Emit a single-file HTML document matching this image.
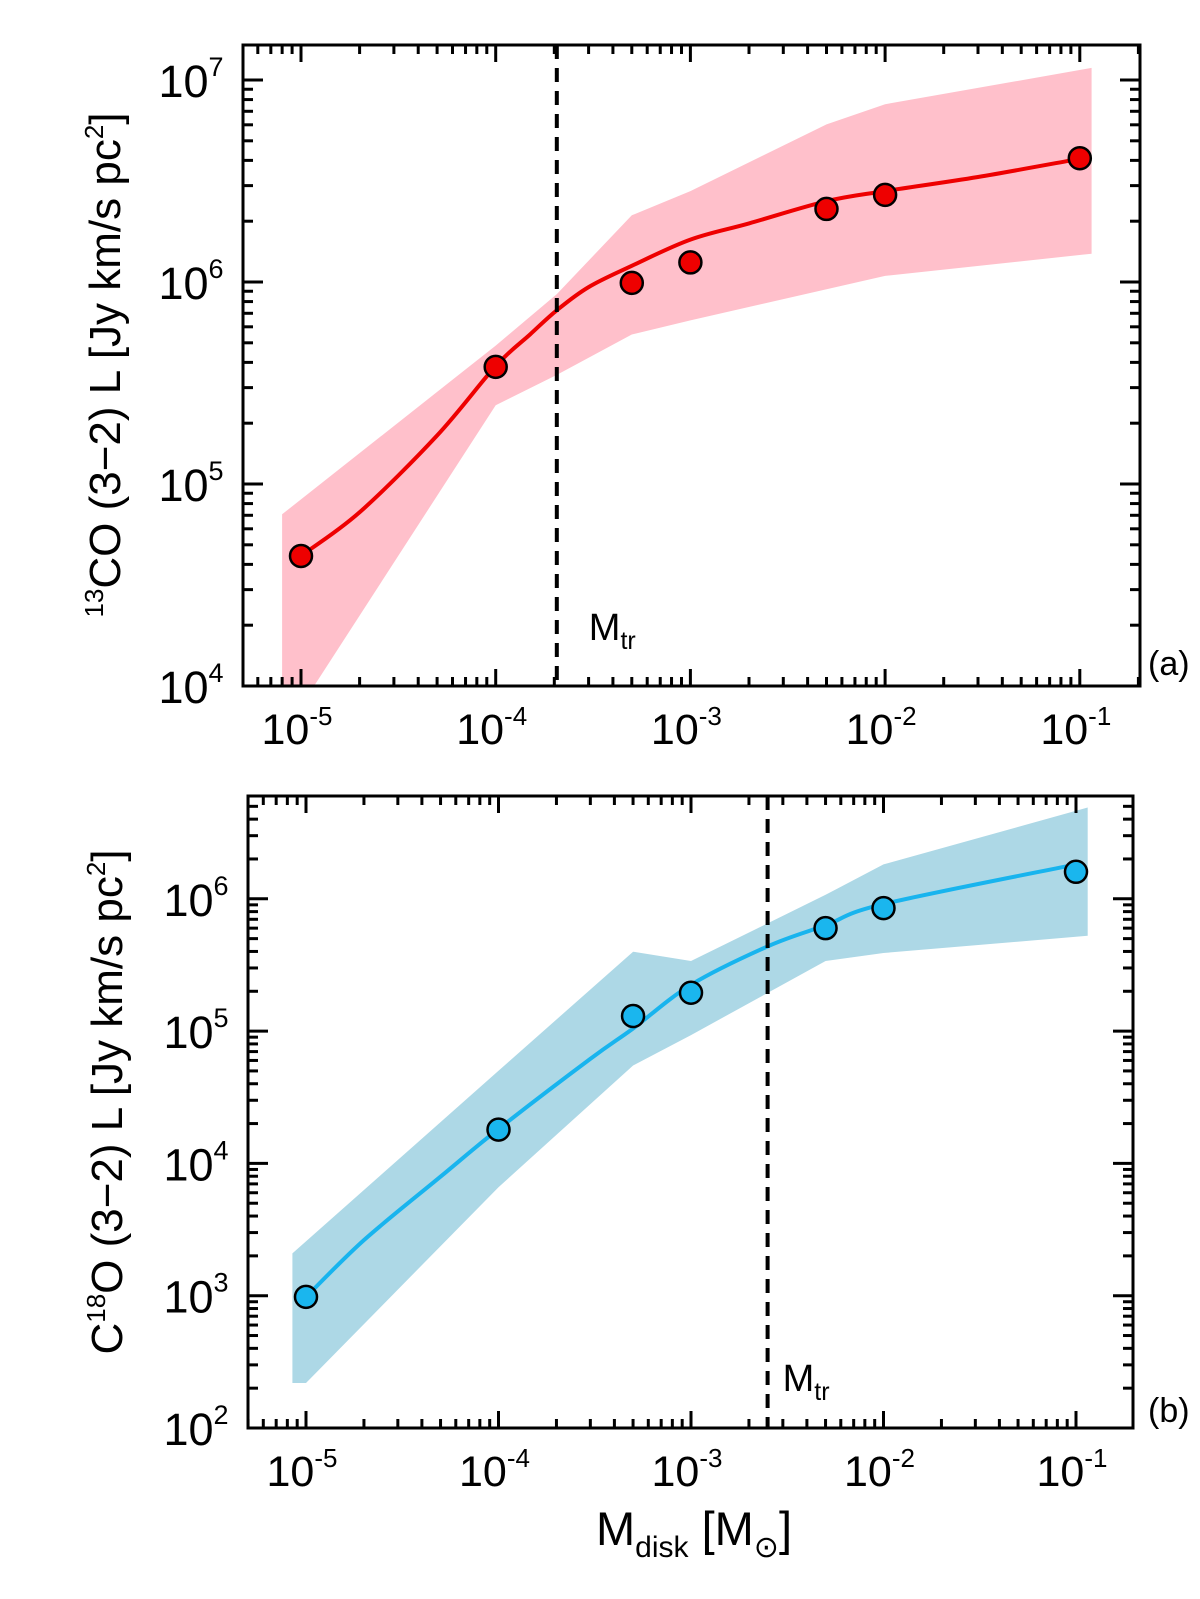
<!DOCTYPE html>
<html><head><meta charset="utf-8"><style>
html,body{margin:0;padding:0;background:#fff;}
svg{display:block;font-family:"Liberation Sans",Arial,sans-serif;}
</style></head><body>
<svg id="chart" width="1200" height="1599" viewBox="0 0 1200 1599"></svg>
<script>
// ---- Panel (a) data: 13CO ----
const aPtX = [1e-5, 1e-4, 5e-4, 1e-3, 5e-3, 1e-2, 1e-1];
const aPtY = [4.4e4, 3.8e5, 9.9e5, 1.25e6, 2.3e6, 2.7e6, 4.1e6];
const aCurveX = [1e-5, 2e-5, 5e-5, 1e-4, 1.5e-4, 2.06e-4, 3e-4, 5e-4, 1e-3, 2e-3, 5e-3, 1e-2, 3e-2, 1e-1];
const aCurveLogY = [4.645, 4.86, 5.24, 5.584, 5.74, 5.86, 5.975, 6.08, 6.21, 6.29, 6.40, 6.45, 6.52, 6.61];
const aBandX = [8e-6, 1e-4, 2.06e-4, 5e-4, 1e-3, 5e-3, 1e-2, 1.15e-1];
const aBandUpLog = [4.85, 5.685, 5.94, 6.33, 6.45, 6.78, 6.88, 7.06];
const aBandLoX = [8e-6, 1e-5, 1e-4, 2.06e-4, 5e-4, 1e-3, 1e-2, 1.15e-1];
const aBandLoLog = [3.9, 3.9, 5.39, 5.54, 5.74, 5.81, 6.03, 6.14];
const aMtr = 2.06e-4;
// ---- Panel (b) data: C18O ----
const bPtX = [1e-5, 1e-4, 5e-4, 1e-3, 5e-3, 1e-2, 1e-1];
const bPtY = [980, 1.8e4, 1.3e5, 1.95e5, 6.0e5, 8.5e5, 1.6e6];
const bCurveX = [1e-5, 2e-5, 5e-5, 1e-4, 3e-4, 5e-4, 1e-3, 2.5e-3, 5e-3, 1e-2, 1e-1];
const bCurveLogY = [2.99, 3.42, 3.90, 4.26, 4.79, 5.02, 5.35, 5.64, 5.80, 5.96, 6.26];
const bBandX = [8.5e-6, 1e-4, 5e-4, 1e-3, 5e-3, 1e-2, 1.15e-1];
const bBandUpLog = [3.32, 4.70, 5.60, 5.53, 6.03, 6.26, 6.69];
const bBandLoX = [8.5e-6, 1e-5, 1e-4, 5e-4, 1e-3, 5e-3, 1e-2, 1.15e-1];
const bBandLoLog = [2.34, 2.34, 3.82, 4.74, 4.97, 5.53, 5.59, 5.72];
const bMtr = 2.5e-3;
const xTickExp = [-5, -4, -3, -2, -1];
const aYTickExp = [4, 5, 6, 7];
const bYTickExp = [2, 3, 4, 5, 6];

const NS = "http://www.w3.org/2000/svg";
const svg = document.getElementById('chart');
function mk(tag, attrs, parent){
  const e = document.createElementNS(NS, tag);
  for (const k in attrs) e.setAttribute(k, attrs[k]);
  (parent || svg).appendChild(e);
  return e;
}
function log10(v){ return Math.log(v)/Math.LN10; }

function panel(cfg){
  const g = mk('g', {});
  
  
  const X = v => cfg.x0 + (log10(v) + 5) * cfg.xdec;
  const YL = l => cfg.yBase - (l - cfg.yMinExp) * cfg.ydec;
  const Y = v => YL(log10(v));
  const cid = 'clip-' + cfg.name;
  const defs = mk('defs', {}, g);
  const cp = mk('clipPath', {id: cid}, defs);
  mk('rect', {x: cfg.L, y: cfg.T, width: cfg.R - cfg.L, height: cfg.B - cfg.T}, cp);
  const plot = mk('g', {'clip-path': 'url(#' + cid + ')'}, g);
  let pts = [];
  for (let i = 0; i < cfg.bandX.length; i++) pts.push(X(cfg.bandX[i]).toFixed(1) + ',' + YL(cfg.bandUp[i]).toFixed(1));
  for (let i = cfg.bandLoX.length - 1; i >= 0; i--) pts.push(X(cfg.bandLoX[i]).toFixed(1) + ',' + YL(cfg.bandLo[i]).toFixed(1));
  const band = mk('polygon', {points: pts.join(' '), fill: cfg.bandColor}, plot);
  
  
  const cp2 = cfg.curveX.map((v, i) => [X(v), YL(cfg.curveY[i])]);
  let d = 'M' + cp2[0][0] + ',' + cp2[0][1];
  for (let i = 0; i < cp2.length - 1; i++) {
    const p0 = cp2[Math.max(0, i - 1)], p1 = cp2[i], p2 = cp2[i + 1], p3 = cp2[Math.min(cp2.length - 1, i + 2)];
    const c1 = [p1[0] + (p2[0] - p0[0]) / 6, p1[1] + (p2[1] - p0[1]) / 6];
    const c2 = [p2[0] - (p3[0] - p1[0]) / 6, p2[1] - (p3[1] - p1[1]) / 6];
    d += ' C' + c1[0].toFixed(1) + ',' + c1[1].toFixed(1) + ' ' + c2[0].toFixed(1) + ',' + c2[1].toFixed(1) + ' ' + p2[0].toFixed(1) + ',' + p2[1].toFixed(1);
  }
  const curve = mk('path', {d: d, fill: 'none', stroke: cfg.lineColor, 'stroke-width': 4}, plot);
  
  
  const mx = X(cfg.mtr);
  const dl = mk('line', {x1: mx, x2: mx, y1: cfg.T, y2: cfg.B, stroke: '#000', 'stroke-width': 4, 'stroke-dasharray': '14,9'}, g);
  
  
  for (let i = 0; i < cfg.ptX.length; i++) {
    const c = mk('circle', {cx: X(cfg.ptX[i]), cy: Y(cfg.ptY[i]), r: 11, fill: cfg.ptColor, stroke: '#000', 'stroke-width': 2.5}, g);
    
    
  }
  const fr = mk('rect', {x: cfg.L, y: cfg.T, width: cfg.R - cfg.L, height: cfg.B - cfg.T, fill: 'none', stroke: '#000', 'stroke-width': 3}, g);
  
  
  const xmin = (cfg.L - cfg.x0) / cfg.xdec - 5, xmax = (cfg.R - cfg.x0) / cfg.xdec - 5;
  for (let e = -6; e <= 0; e++) for (let m = 1; m <= 9; m++) {
    const lv = e + log10(m);
    if (lv <= xmin || lv >= xmax) continue;
    const px = cfg.x0 + (lv + 5) * cfg.xdec, len = m === 1 ? 17 : 9;
    mk('line', {x1: px, x2: px, y1: cfg.B, y2: cfg.B - len, stroke: '#000', 'stroke-width': 3}, g);
    mk('line', {x1: px, x2: px, y1: cfg.T, y2: cfg.T + len, stroke: '#000', 'stroke-width': 3}, g);
  }
  xTickExp.forEach(e => {
    const t = mk('text', {x: X(Math.pow(10, e)) - 4, y: cfg.B + 58, 'text-anchor': 'middle', 'font-size': 43}, g);
    
    
    t.appendChild(document.createTextNode('10'));
    const s = mk('tspan', {dy: -19, 'font-size': 26}, t);
    s.textContent = String(e);
  });
  const ymax = cfg.yMinExp + (cfg.yBase - cfg.T) / cfg.ydec;
  for (let e = cfg.yMinExp; e <= 8; e++) for (let m = 1; m <= 9; m++) {
    const lv = e + log10(m);
    if (lv < cfg.yMinExp || lv >= ymax) continue;
    const py = YL(lv), len = m === 1 ? 20 : 10;
    mk('line', {x1: cfg.L, x2: cfg.L + len, y1: py, y2: py, stroke: '#000', 'stroke-width': 3}, g);
    mk('line', {x1: cfg.R, x2: cfg.R - len, y1: py, y2: py, stroke: '#000', 'stroke-width': 3}, g);
  }
  cfg.yTicks.forEach(e => {
    const t = mk('text', {x: cfg.L - 52, y: YL(e) + 17, 'text-anchor': 'middle', 'font-size': 45}, g);
    
    
    t.appendChild(document.createTextNode('10'));
    const s = mk('tspan', {dy: -21, 'font-size': 27}, t);
    s.textContent = String(e);
  });
  const mt = mk('text', {x: mx + cfg.mtrOff, y: cfg.mtrLabelY, 'font-size': 38}, g);
  
  
  mt.appendChild(document.createTextNode('M'));
  const ms = mk('tspan', {dy: 9, 'font-size': 25}, mt); ms.textContent = 'tr';
  const pl = mk('text', {x: 1148, y: cfg.letterY, 'font-size': 34}, g);
  
  
  pl.textContent = cfg.letter;
  const yt = mk('text', {x: 0, y: 0, 'text-anchor': 'middle', 'font-size': 44, transform: 'translate(' + cfg.titleX + ',' + cfg.titleY + ') rotate(-90)'}, g);
  
  
  cfg.title(yt);
}

panel({name: 'panel-a', L: 243, R: 1140, T: 45, B: 686, x0: 301, xdec: 194.7,
  yBase: 686, yMinExp: 4, ydec: 202, yTicks: aYTickExp,
  bandX: aBandX, bandUp: aBandUpLog, bandLoX: aBandLoX, bandLo: aBandLoLog, bandColor: '#ffc0cb',
  curveX: aCurveX, curveY: aCurveLogY, lineColor: '#ee0000', ptX: aPtX, ptY: aPtY, ptColor: '#ee0000',
  mtr: aMtr, mtrOff: 32, mtrLabelY: 640, letter: '(a)', letterY: 675, titleX: 120, titleY: 365,
  title: t => {
    const a = mk('tspan', {'font-size': 26, dy: -17}, t); a.textContent = '13';
    const b = mk('tspan', {dy: 17}, t); b.textContent = 'CO (3\u22122) L [Jy km/s pc';
    const c = mk('tspan', {'font-size': 26, dy: -17}, t); c.textContent = '2';
    const d2 = mk('tspan', {dy: 17}, t); d2.textContent = ']';
  }});

panel({name: 'panel-b', L: 248, R: 1133, T: 796, B: 1428, x0: 306, xdec: 192.5,
  yBase: 1428, yMinExp: 2, ydec: 132.3, yTicks: bYTickExp,
  bandX: bBandX, bandUp: bBandUpLog, bandLoX: bBandLoX, bandLo: bBandLoLog, bandColor: '#add8e6',
  curveX: bCurveX, curveY: bCurveLogY, lineColor: '#18b4ee', ptX: bPtX, ptY: bPtY, ptColor: '#1ab6ee',
  mtr: bMtr, mtrOff: 15, mtrLabelY: 1391, letter: '(b)', letterY: 1422, titleX: 122, titleY: 1102,
  title: t => {
    const b = mk('tspan', {}, t); b.textContent = 'C';
    const a = mk('tspan', {'font-size': 26, dy: -17}, t); a.textContent = '18';
    const b2 = mk('tspan', {dy: 17}, t); b2.textContent = 'O (3\u22122) L [Jy km/s pc';
    const c = mk('tspan', {'font-size': 26, dy: -17}, t); c.textContent = '2';
    const d2 = mk('tspan', {dy: 17}, t); d2.textContent = ']';
  }});

const xt = mk('text', {x: 694, y: 1545, 'text-anchor': 'middle', 'font-size': 47});


xt.appendChild(document.createTextNode('M'));
const xs1 = mk('tspan', {dy: 12, 'font-size': 30}, xt); xs1.textContent = 'disk';
const xs2 = mk('tspan', {dy: -12}, xt); xs2.textContent = ' [M';
const xs3 = mk('tspan', {dy: 12, 'font-size': 30}, xt); xs3.textContent = '\u2299';
const xs4 = mk('tspan', {dy: -12}, xt); xs4.textContent = ']';
</script>
</body></html>
